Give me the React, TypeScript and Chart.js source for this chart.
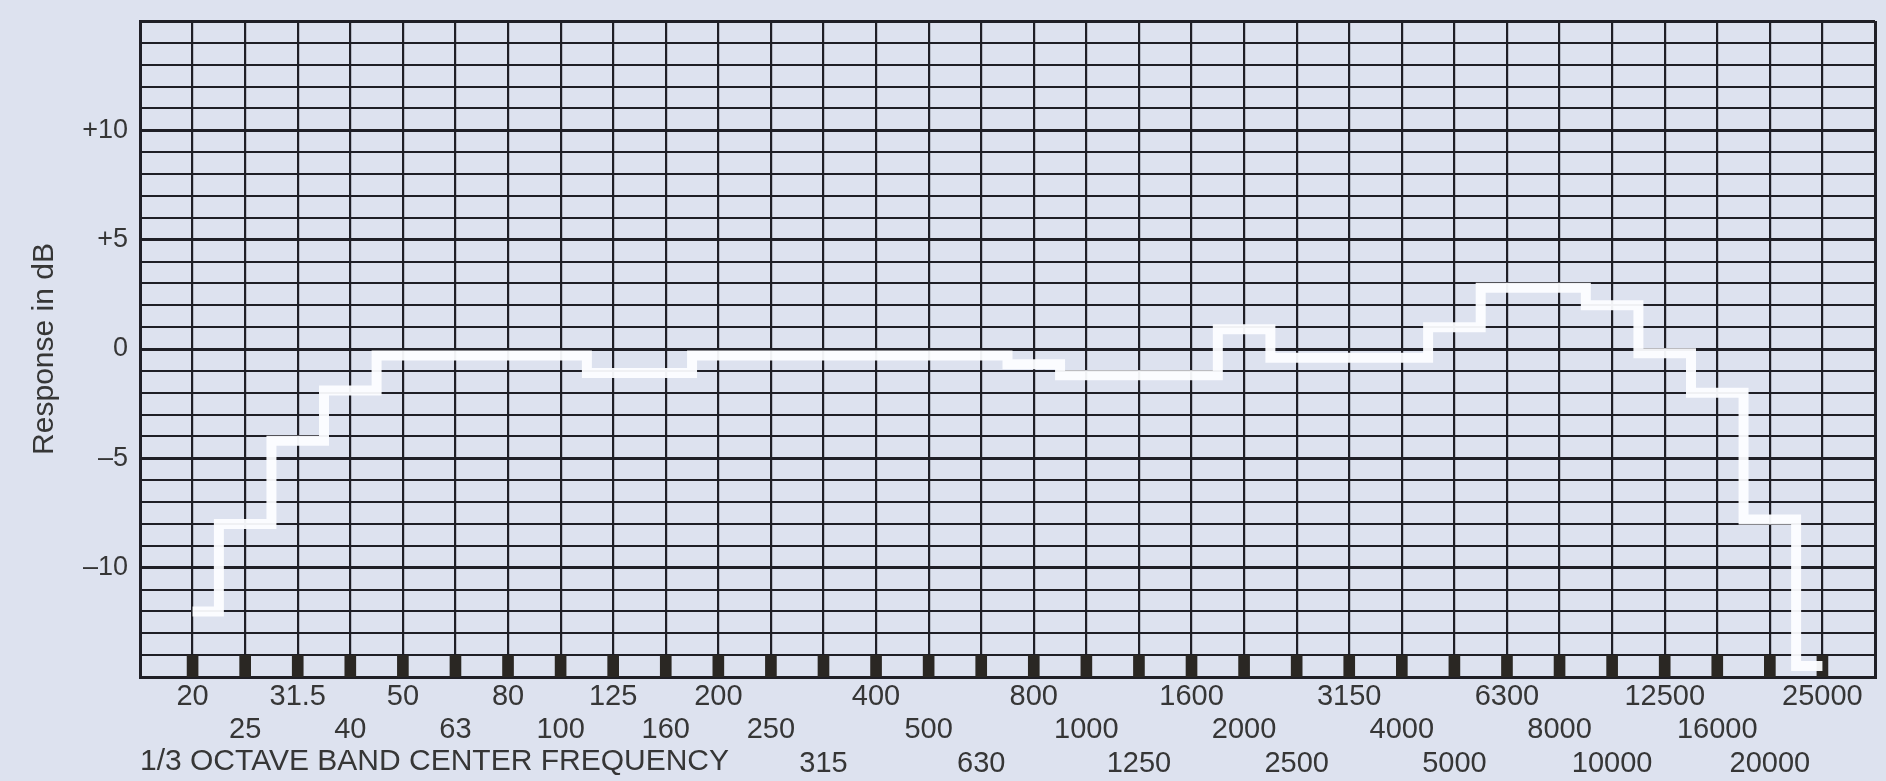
import React, { useEffect, useRef } from 'react';
import { Chart, registerables } from 'chart.js';

Chart.register(...registerables);

// 1/3-octave band centre frequencies (Hz)
const bands = [
  '20', '25', '31.5', '40', '50', '63', '80', '100', '125', '160', '200', '250',
  '315', '400', '500', '630', '800', '1000', '1250', '1600', '2000', '2500', '3150',
  '4000', '5000', '6300', '8000', '10000', '12500', '16000', '20000', '25000',
];
// which of the three staggered label rows each band label sits on
const labelRow = [
  0, 1, 0, 1, 0, 1, 0, 1, 0, 1, 0, 1,
  2, 0, 1, 2, 0, 1, 2, 0, 1, 2, 0,
  1, 2, 0, 1, 2, 0, 1, 2, 0,
];
// measured response per band (dB)
const responseDb = [
  -12, -8, -4.2, -1.9, -0.3, -0.3, -0.3, -0.3, -1.1, -1.1, -0.3, -0.3,
  -0.3, -0.3, -0.3, -0.3, -0.7, -1.2, -1.2, -1.2, 0.9, -0.4, -0.4,
  -0.4, 1.0, 2.8, 2.8, 2.0, -0.2, -2.0, -7.8, -14.5,
];
// small dark band markers along the bottom row of the chart paper (dB range)
const markerRange = [-15, -14];
const yTickValues = [10, 5, 0, -5, -10];
const yTickText = ['+10', '+5', '0', '–5', '–10'];
const yTitle = 'Response in dB';
const xTitle = '1/3 OCTAVE BAND CENTER FREQUENCY';

const FONT = "'Liberation Sans', Arial, Helvetica, sans-serif";
const BG = '#dde2ef';
const GRID = '#1f1f26';
const TEXT = '#363636';

export default function App() {
  const ref = useRef<HTMLCanvasElement>(null);

  useEffect(() => {
    const canvas = ref.current;
    if (!canvas) return;

    const bgPlugin = {
      id: 'paperBg',
      beforeDraw(chart: any) {
        const { ctx, width, height } = chart;
        ctx.save();
        ctx.fillStyle = BG;
        ctx.fillRect(0, 0, width, height);
        ctx.restore();
      },
    };

    const chart = new Chart(canvas, {
      type: 'line',
      data: {
        datasets: [
          {
            type: 'line',
            data: responseDb.map((v, i) => ({ x: i, y: v })),
            borderColor: 'rgba(252,253,255,0.95)',
            borderWidth: 10,
            stepped: 'middle',
            pointRadius: 0,
            fill: false,
            borderCapStyle: 'butt',
          } as any,
          {
            type: 'bar',
            data: bands.map((_, i) => ({ x: i, y: markerRange })),
            backgroundColor: '#2a2723',
            barThickness: 11,
          } as any,
        ],
      },
      options: {
        responsive: false,
        animation: false,
        events: [],
        layout: { autoPadding: false, padding: { top: 21, right: 11, left: 0, bottom: 0 } },
        plugins: { legend: { display: false }, tooltip: { enabled: false } },
        scales: {
          x: {
            type: 'linear',
            min: -1,
            max: 32,
            offset: false,
            afterFit: (s: any) => {
              s.height = 104;
            },
            grid: {
              offset: false,
              color: GRID,
              lineWidth: (c: any) =>
                c.tick && (c.tick.value === -1 || c.tick.value === 32) ? 3 : 2.2,
              drawTicks: false,
            },
            border: { display: true, color: GRID, width: 3 },
            ticks: {
              stepSize: 1,
              autoSkip: false,
              maxRotation: 0,
              minRotation: 0,
              padding: 3,
              color: TEXT,
              font: { family: FONT, size: 29, lineHeight: 1.16 },
              callback: (v: any) => {
                const i = Math.round(Number(v));
                if (i < 0 || i >= bands.length) return '';
                const row = labelRow[i];
                if (row === 0) return bands[i];
                const lines: string[] = [];
                for (let r = 0; r < row; r++) lines.push('');
                lines.push(bands[i]);
                return lines;
              },
            },
            title: {
              display: true,
              text: xTitle,
              align: 'start',
              color: TEXT,
              font: { family: FONT, size: 30, lineHeight: 1.2 },
              padding: { top: 0, bottom: 1 },
            },
          },
          y: {
            type: 'linear',
            min: -15,
            max: 15,
            afterFit: (s: any) => {
              s.width = 140;
            },
            grid: {
              color: GRID,
              lineWidth: (c: any) => {
                const v = c.tick ? c.tick.value : 1;
                return v % 5 === 0 ? 3 : 2;
              },
              drawTicks: false,
            },
            border: { display: true, color: GRID, width: 3 },
            ticks: {
              stepSize: 1,
              autoSkip: false,
              padding: 12,
              color: TEXT,
              font: { family: FONT, size: 27, lineHeight: 0.5 },
              callback: (v: any) => {
                const k = yTickValues.indexOf(Number(v));
                return k >= 0 ? yTickText[k] : '';
              },
            },
            title: {
              display: true,
              text: yTitle,
              color: TEXT,
              font: { family: FONT, size: 30, lineHeight: 1.2 },
              padding: { top: 27, bottom: 0 },
            },
          },
        },
      } as any,
      plugins: [bgPlugin],
    });

    return () => chart.destroy();
  }, []);

  return (
    <div
      style={{
        position: 'fixed',
        left: 0,
        top: 0,
        width: 1886,
        height: 781,
        background: BG,
      }}
    >
      <canvas
        ref={ref}
        width={1886}
        height={781}
        style={{ display: 'block', width: 1886, height: 781 }}
      />
    </div>
  );
}
